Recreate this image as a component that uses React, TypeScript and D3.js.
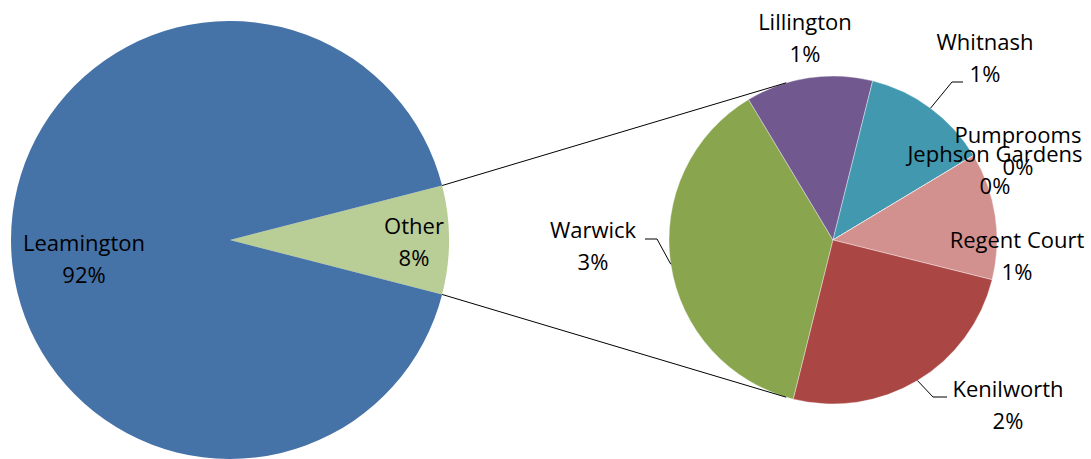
import React, { useEffect, useRef } from "react";
import * as d3 from "d3";

// main pie
const mainNames = ["Other", "Leamington"];
// secondary pie (breakdown of "Other"), clockwise from the Warwick slice
const subNames = ["Warwick", "Lillington", "Whitnash", "Pumprooms", "Jephson Gardens", "Regent Court", "Kenilworth"];
const subValues = [3, 1, 1, 0, 0, 1, 2];
const leamingtonValue = 92;

const colors: Record<string, string> = {
  Leamington: "#4572A7",
  Other: "#B9CD96",
  Warwick: "#89A54E",
  Lillington: "#71588F",
  Whitnash: "#4198AF",
  Pumprooms: "#DB843D",
  "Jephson Gardens": "#93A9CF",
  "Regent Court": "#D2908E",
  Kenilworth: "#AA4643",
};

// label layout: center x, first baseline y, optional leader elbow/end
const labelPos: Record<string, { x: number; y: number; elbow?: number[]; end?: number[] }> = {
  Leamington: { x: 84, y: 251 },
  Other: { x: 414, y: 234 },
  Lillington: { x: 805, y: 30 },
  Whitnash: { x: 985, y: 50, elbow: [952, 82], end: [963, 82] },
  Warwick: { x: 593, y: 238, elbow: [657, 239], end: [645, 239] },
  Kenilworth: { x: 1008, y: 397, elbow: [933, 397], end: [947, 397] },
  "Regent Court": { x: 1017, y: 248 },
  Pumprooms: { x: 1018, y: 143 },
  "Jephson Gardens": { x: 995, y: 162 },
};

const W = 1091, H = 459;
const mainC = [230, 240], mainR = 219;
const subC = [833, 240], subR = 164;
const lineH = 32;

function tangentPoints(px: number, py: number, cx: number, cy: number, r: number) {
  const dx = px - cx, dy = py - cy;
  const d = Math.sqrt(dx * dx + dy * dy);
  const th = Math.atan2(dy, dx);
  const a = Math.acos(r / d);
  return [th + a, th - a].map(t => [cx + r * Math.cos(t), cy + r * Math.sin(t)]);
}

export default function App() {
  const ref = useRef<SVGSVGElement>(null);

  useEffect(() => {
    const svg = d3.select(ref.current);
    svg.selectAll("*").remove();

    const otherTotal = d3.sum(subValues);
    const mainValues = [otherTotal, leamingtonValue];
    const total = d3.sum(mainValues);
    const otherAngle = (2 * Math.PI * otherTotal) / total;

    const mainPie = d3
      .pie<number>()
      .sort(null)
      .value(d => d)
      .startAngle(Math.PI / 2 - otherAngle / 2)
      .endAngle(Math.PI / 2 - otherAngle / 2 + 2 * Math.PI);
    const mainArcs = mainPie(mainValues);
    const mainArc = d3.arc<d3.PieArcDatum<number>>().innerRadius(0).outerRadius(mainR);

    const g1 = svg.append("g").attr("transform", `translate(${mainC[0]},${mainC[1]})`);
    g1.selectAll("path")
      .data(mainArcs)
      .join("path")
      .attr("d", mainArc)
      .attr("fill", (d, i) => colors[mainNames[i]]);

    const subStart = (194 * Math.PI) / 180;
    const subPie = d3
      .pie<number>()
      .sort(null)
      .value(d => d)
      .startAngle(subStart)
      .endAngle(subStart + 2 * Math.PI);
    const subArcs = subPie(subValues);
    const subArc = d3.arc<d3.PieArcDatum<number>>().innerRadius(0).outerRadius(subR);

    const g2 = svg.append("g").attr("transform", `translate(${subC[0]},${subC[1]})`);
    g2.selectAll("path")
      .data(subArcs)
      .join("path")
      .attr("d", subArc)
      .attr("fill", (d, i) => colors[subNames[i]])
      .attr("stroke", "#fff")
      .attr("stroke-opacity", 0.5)
      .attr("stroke-width", 0.75);

    // connector lines: tangents from the edges of "Other" to the secondary pie
    const oa = mainArcs[0];
    const edge = (a: number) => [mainC[0] + mainR * Math.sin(a), mainC[1] - mainR * Math.cos(a)];
    const pTop = edge(oa.startAngle);
    const pBot = edge(oa.endAngle);
    const tTop = tangentPoints(pTop[0], pTop[1], subC[0], subC[1], subR).sort((a, b) => a[1] - b[1])[0];
    const tBot = tangentPoints(pBot[0], pBot[1], subC[0], subC[1], subR).sort((a, b) => b[1] - a[1])[0];
    svg.append("g")
      .selectAll("line")
      .data([[pTop, tTop], [pBot, tBot]])
      .join("line")
      .attr("x1", d => d[0][0])
      .attr("y1", d => d[0][1])
      .attr("x2", d => d[1][0])
      .attr("y2", d => d[1][1])
      .attr("stroke", "#000")
      .attr("stroke-width", 1);

    // labels
    const pct = (v: number) => Math.round((v / total) * 100) + "%";
    const labels = [
      ...mainArcs.map((d, i) => ({ name: mainNames[i], value: mainValues[i], arc: d, c: mainC, r: mainR })),
      ...subArcs.map((d, i) => ({ name: subNames[i], value: subValues[i], arc: d, c: subC, r: subR })),
    ];

    const lg = svg.append("g");
    labels.forEach(l => {
      const p = labelPos[l.name];
      if (!p) return;
      if (p.elbow && p.end) {
        const mid = (l.arc.startAngle + l.arc.endAngle) / 2;
        const s = [l.c[0] + l.r * Math.sin(mid), l.c[1] - l.r * Math.cos(mid)];
        lg.append("polyline")
          .attr("points", [s, p.elbow, p.end].map(q => q.join(",")).join(" "))
          .attr("fill", "none")
          .attr("stroke", "#000")
          .attr("stroke-width", 1);
      }
      const t = lg.append("text")
        .attr("x", p.x)
        .attr("y", p.y)
        .attr("text-anchor", "middle")
        .attr("font-family", "'Open Sans', sans-serif")
        .attr("font-size", 22)
        .attr("fill", "#000");
      t.append("tspan").attr("x", p.x).attr("y", p.y).text(l.name);
      t.append("tspan").attr("x", p.x).attr("y", p.y + lineH).text(pct(l.value));
    });
  }, []);

  return (
    <div>
      <style>{`body{margin:0}`}</style>
      <svg ref={ref} width={W} height={H} style={{ display: "block", background: "#fff" }}></svg>
    </div>
  );
}
